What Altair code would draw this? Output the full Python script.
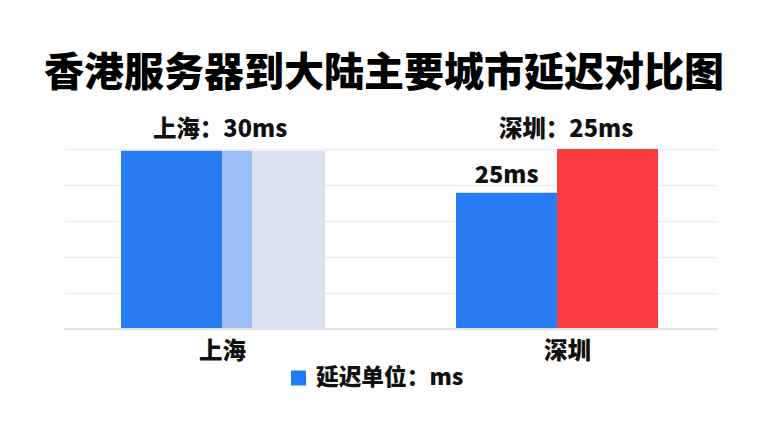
import altair as alt
import pandas as pd

title_text = "香港服务器到大陆主要城市延迟对比图"
cities = ["上海", "深圳"]
city_centers = [15.8, 50.3]

bar_city = ["上海", "上海", "上海", "深圳", "深圳"]
bar_left = [5.7, 15.8, 18.8, 39.2, 49.3]
bar_right = [15.8, 18.8, 26.1, 49.3, 59.4]
bar_value = [29.7, 29.7, 29.7, 22.7, 30.0]
bar_color = ["#2a7cf5", "#9dbef6", "#d9e2f1", "#2a7cf5", "#f93b42"]

group_labels = ["上海：30ms", "深圳：25ms"]
group_label_x = [15.6, 50.2]
group_label_y = [30.0, 30.0]

bar_labels = ["25ms"]
bar_label_x = [44.25]
bar_label_y = [22.7]

legend_text = "延迟单位：ms"

FONT = "Noto Sans CJK SC"
LBL = 23.5

bars_df = pd.DataFrame({"city": bar_city, "x0": bar_left, "x1": bar_right,
                        "v": bar_value, "c": bar_color})
glab_df = pd.DataFrame({"t": group_labels, "x": group_label_x, "y": group_label_y})
blab_df = pd.DataFrame({"t": bar_labels, "x": bar_label_x, "y": bar_label_y})

xscale = alt.Scale(domain=[0, 65.3], nice=False, zero=False)
yscale = alt.Scale(domain=[0, 30], nice=False)

label_expr = "datum.value < 30 ? '上海' : '深圳'"

bars = alt.Chart(bars_df).mark_rect().encode(
    x=alt.X("x0:Q", scale=xscale,
            axis=alt.Axis(values=city_centers, labelExpr=label_expr, title=None,
                          grid=False, domain=False, ticks=False,
                          labelFontSize=LBL, labelFont=FONT, labelFontWeight=900,
                          labelColor="#111111", labelPadding=10)),
    x2="x1:Q",
    y=alt.Y("v:Q", scale=yscale,
            axis=alt.Axis(values=[0, 6, 12, 18, 24, 30], labels=False, title=None,
                          domain=False, ticks=False, gridColor="#eeeeee", gridWidth=1.5)),
    y2=alt.datum(0),
    color=alt.Color("c:N", scale=None),
)

baseline = alt.Chart(pd.DataFrame({"y": [0]})).mark_rule(color="#e2e2e2", strokeWidth=2).encode(
    y=alt.Y("y:Q", scale=yscale, axis=None)
)

glab = alt.Chart(glab_df).mark_text(fontSize=LBL, font=FONT, fontWeight=900,
                                    color="#111111", dy=-19, baseline="middle").encode(
    x=alt.X("x:Q", scale=xscale, axis=None), y=alt.Y("y:Q", scale=yscale, axis=None), text="t:N")

blab = alt.Chart(blab_df).mark_text(fontSize=LBL, font=FONT, fontWeight=900,
                                    color="#111111", dy=-17, baseline="middle").encode(
    x=alt.X("x:Q", scale=xscale, axis=None), y=alt.Y("y:Q", scale=yscale, axis=None), text="t:N")

title = alt.Chart(pd.DataFrame({"t": [title_text]})).mark_text(
    fontSize=40, font=FONT, fontWeight=900, color="#000000", baseline="middle", align="center"
).encode(x=alt.value(320), y=alt.value(-75), text="t:N")

legend_sq = alt.Chart(pd.DataFrame({"c": ["#1f7cf6"]})).mark_square(size=225, opacity=1).encode(
    x=alt.value(234.5), y=alt.value(229), color=alt.Color("c:N", scale=None))
legend_tx = alt.Chart(pd.DataFrame({"t": [legend_text]})).mark_text(
    fontSize=22.7, font=FONT, fontWeight=900, color="#111111", align="left", baseline="middle"
).encode(x=alt.value(252), y=alt.value(229), text="t:N")

chart = alt.layer(bars, baseline, glab, blab, title, legend_sq, legend_tx).resolve_axis(
    x="independent", y="independent"
).properties(
    width=653, height=180,
    autosize=alt.AutoSizeParams(type="none"),
    padding={"left": 56, "top": 141, "right": 43, "bottom": 95},
    background="white",
).configure_view(stroke=None)

chart.save("out.html", embed_options={"renderer": "svg", "actions": False})
